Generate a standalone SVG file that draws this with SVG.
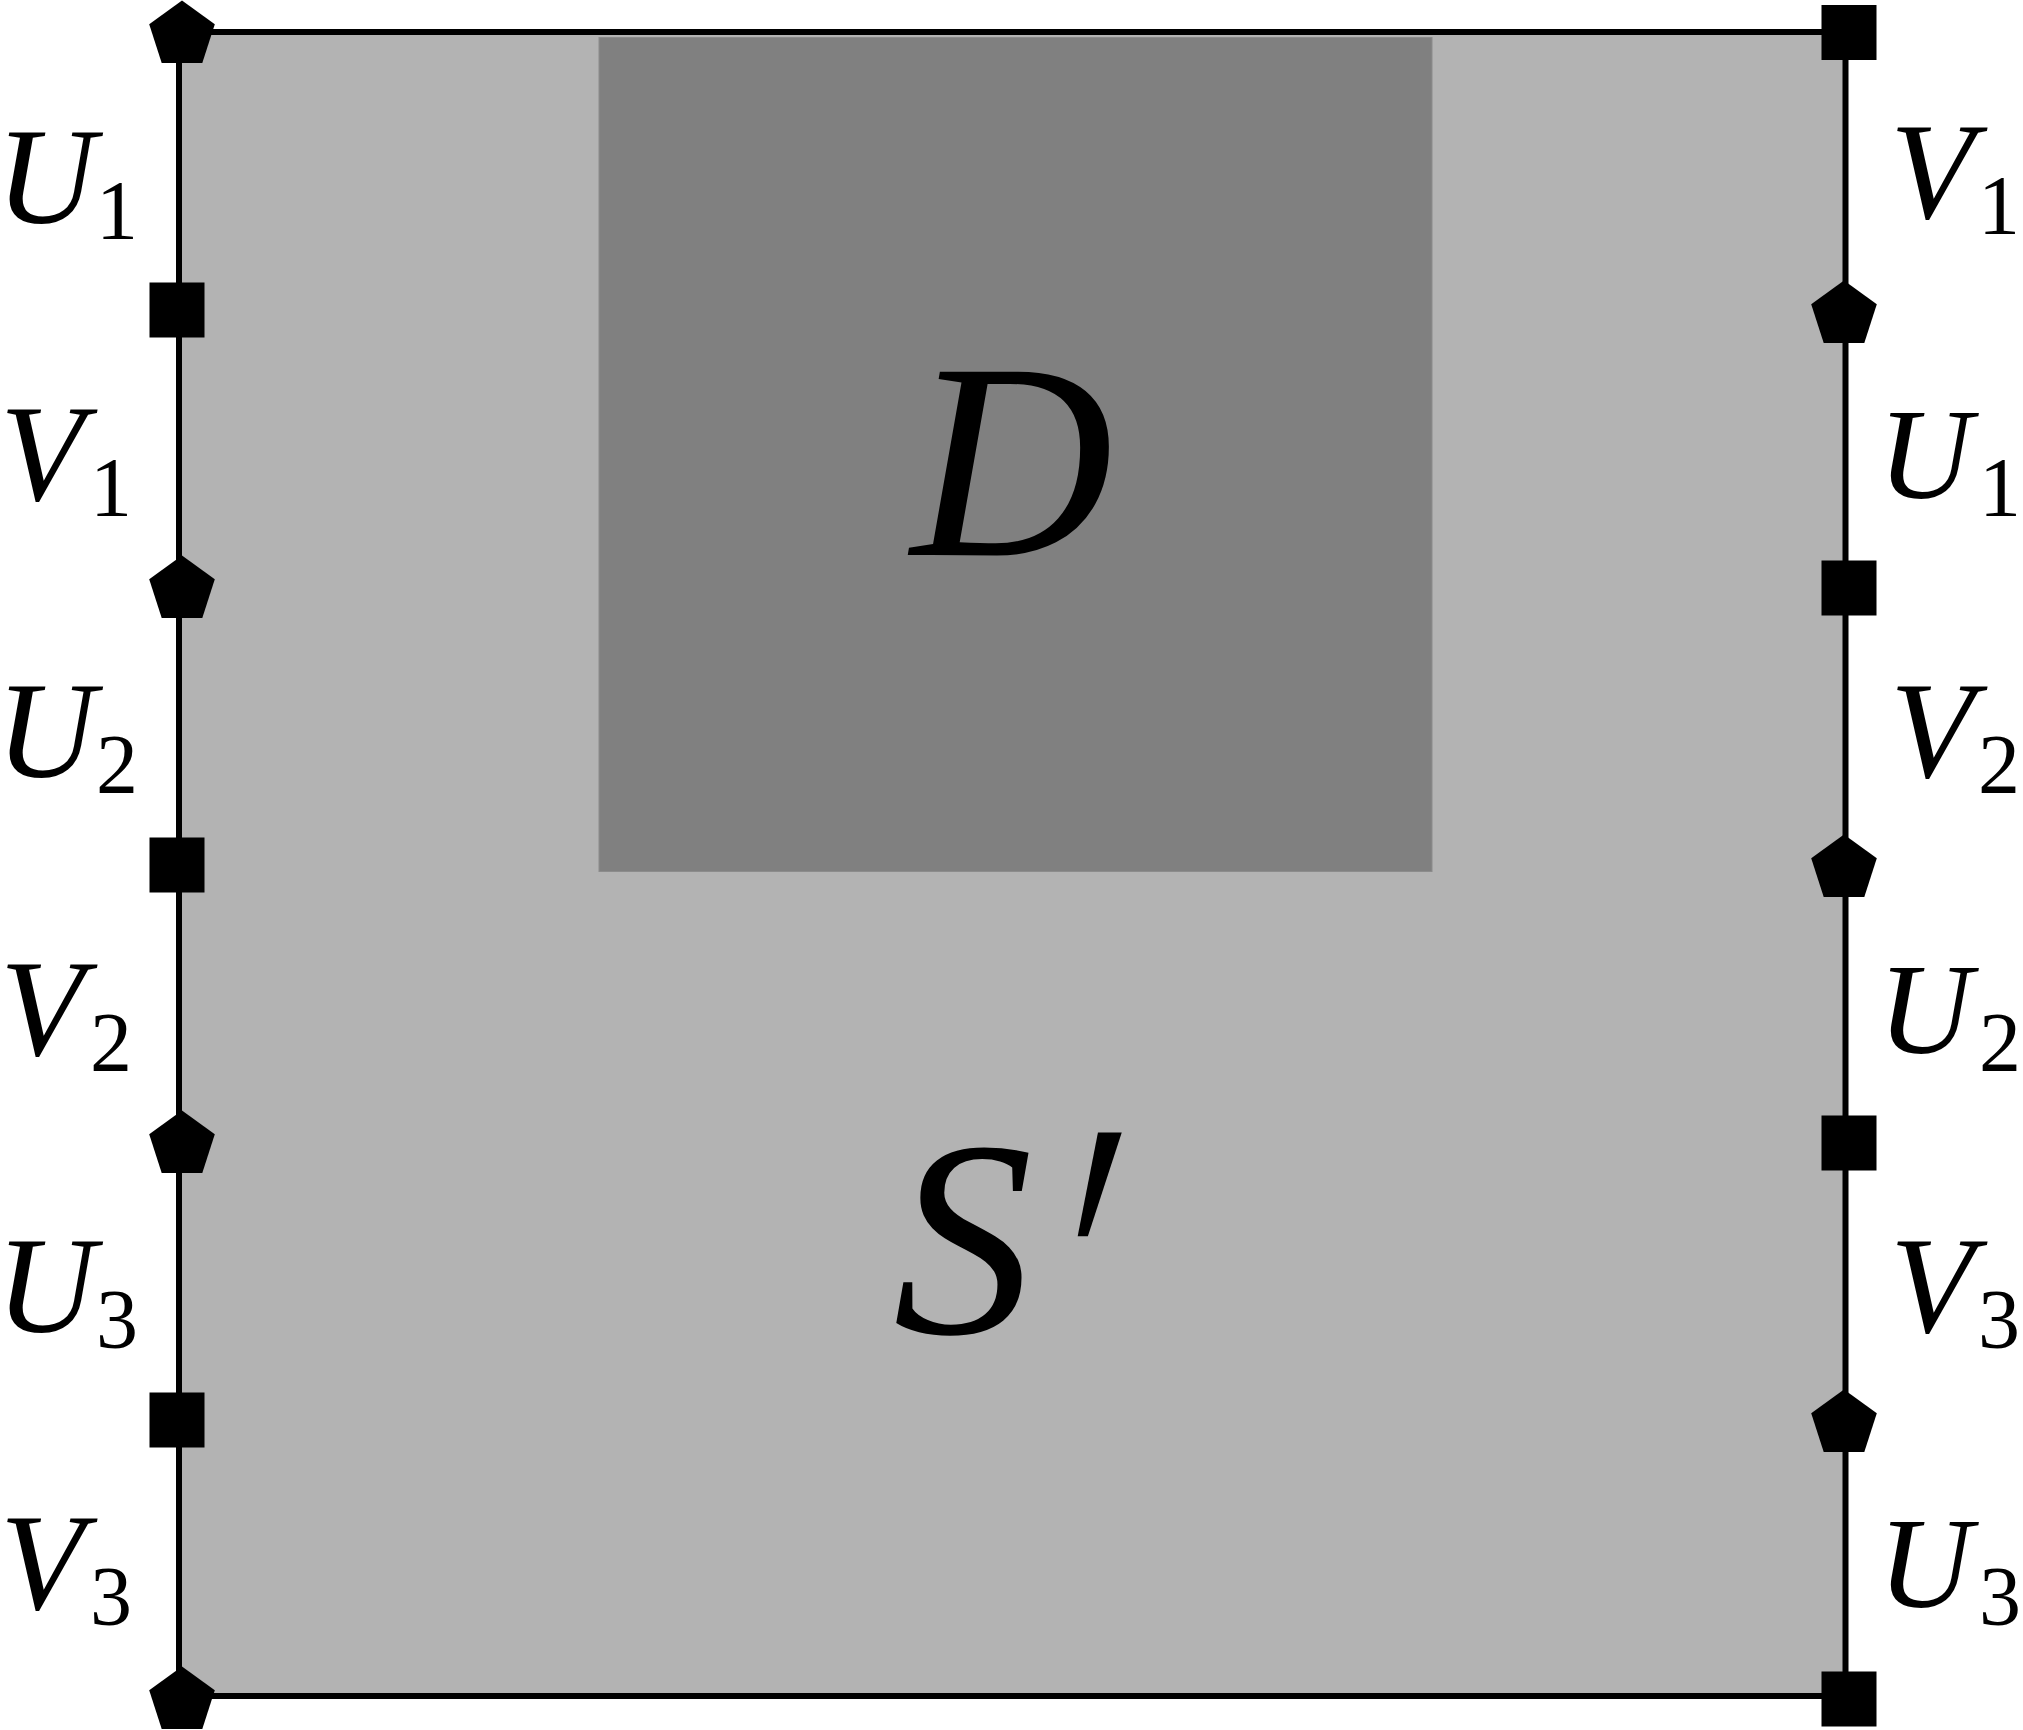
<svg xmlns="http://www.w3.org/2000/svg" width="2023" height="1730" viewBox="0 0 2023 1730">
<style>
.m{font-family:"Liberation Serif","DejaVu Serif",serif;font-style:italic;font-size:138px;fill:#000}
.mu{font-family:"Liberation Serif","DejaVu Serif",serif;font-style:italic;font-size:130px;fill:#000}
.s{font-family:"Liberation Serif","DejaVu Serif",serif;font-size:84px;fill:#000}
.big{font-family:"Liberation Serif","DejaVu Serif",serif;font-style:italic;font-size:280px;fill:#000}
.pr{font-family:"DejaVu Serif","Liberation Serif",serif;font-size:200px;fill:#000}
.edge{stroke:#000;stroke-width:6;fill:none}
.mk{fill:#000}
</style>
<defs>
<polygon id="pent" points="0,-34.5 32.8,-10.7 20.3,27.9 -20.3,27.9 -32.8,-10.7"/>
<rect id="sq" x="-27.5" y="-27.5" width="55" height="55"/>
</defs>
<g id="region-S">
<rect x="179" y="32" width="1666.5" height="1664" fill="#b3b3b3"/>
<text class="big" x="893" y="1333">S</text>
<text class="pr" transform="translate(1073,1548) scale(1.2,2.85)" x="0" y="0">′</text>
</g>
<g id="region-D">
<rect x="599" y="37.5" width="833" height="834" fill="#808080" stroke="#8c8c8c" stroke-width="1"/>
<text class="big" x="1012" y="555" text-anchor="middle">D</text>
</g>
<g id="connectors">
<rect class="edge" x="179" y="32" width="1666.5" height="1664"/>
</g>
<g id="markers-left">
<use href="#pent" class="mk" x="182" y="35"/>
<use href="#sq" class="mk" x="177" y="310"/>
<use href="#pent" class="mk" x="182" y="590"/>
<use href="#sq" class="mk" x="177" y="865"/>
<use href="#pent" class="mk" x="182" y="1145"/>
<use href="#sq" class="mk" x="177" y="1420"/>
<use href="#pent" class="mk" x="182" y="1701"/>
</g>
<g id="markers-right">
<use href="#sq" class="mk" x="1849" y="32.5"/>
<use href="#pent" class="mk" x="1844" y="315"/>
<use href="#sq" class="mk" x="1849" y="588"/>
<use href="#pent" class="mk" x="1844" y="869"/>
<use href="#sq" class="mk" x="1849" y="1143"/>
<use href="#pent" class="mk" x="1844" y="1424"/>
<use href="#sq" class="mk" x="1849" y="1699"/>
</g>
<g id="labels-left">
<text><tspan class="m" x="-4" y="223">U</tspan><tspan class="s" x="96" y="239">1</tspan></text>
<text><tspan class="m" x="0" y="500">V</tspan><tspan class="s" x="90" y="516">1</tspan></text>
<text><tspan class="m" x="-4" y="777">U</tspan><tspan class="s" x="96" y="793">2</tspan></text>
<text><tspan class="m" x="0" y="1055">V</tspan><tspan class="s" x="90" y="1071">2</tspan></text>
<text><tspan class="m" x="-4" y="1332">U</tspan><tspan class="s" x="96" y="1348">3</tspan></text>
<text><tspan class="m" x="0" y="1609">V</tspan><tspan class="s" x="90" y="1625">3</tspan></text>
</g>
<g id="labels-right">
<text><tspan class="m" x="1890" y="218">V</tspan><tspan class="s" x="2020" y="234" text-anchor="end">1</tspan></text>
<text><tspan class="mu" x="1878" y="498">U</tspan><tspan class="s" x="2021" y="516" text-anchor="end">1</tspan></text>
<text><tspan class="m" x="1890" y="777">V</tspan><tspan class="s" x="2020" y="793" text-anchor="end">2</tspan></text>
<text><tspan class="mu" x="1878" y="1053">U</tspan><tspan class="s" x="2021" y="1071" text-anchor="end">2</tspan></text>
<text><tspan class="m" x="1890" y="1332">V</tspan><tspan class="s" x="2020" y="1348" text-anchor="end">3</tspan></text>
<text><tspan class="mu" x="1878" y="1607">U</tspan><tspan class="s" x="2021" y="1625" text-anchor="end">3</tspan></text>
</g>
</svg>
